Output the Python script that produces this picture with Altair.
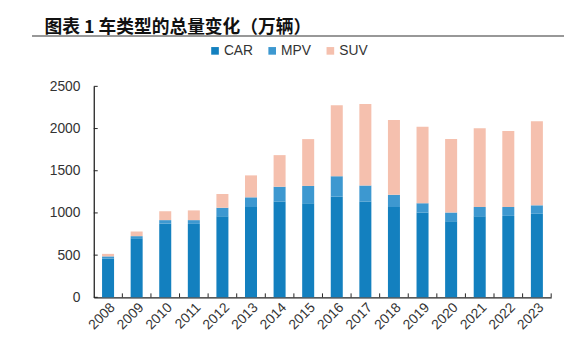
import altair as alt
import pandas as pd

years = [str(y) for y in range(2008, 2024)]
car = [460, 700, 875, 870, 960, 1070, 1135, 1115, 1195, 1135, 1070, 1005, 900, 960, 965, 990]
mpv = [25, 25, 40, 45, 100, 115, 175, 205, 240, 190, 145, 110, 105, 110, 105, 100]
suv = [30, 55, 105, 115, 165, 260, 375, 555, 840, 965, 885, 905, 870, 935, 900, 995]
series = ["CAR", "MPV", "SUV"]
colors = ["#1380bf", "#3d98d0", "#f5c0ae"]
y_ticks = [0, 500, 1000, 1500, 2000, 2500]

rows = []
for i, y in enumerate(years):
    for k, (name, vals) in enumerate(zip(series, [car, mpv, suv])):
        rows.append({"year": y, "type": name, "value": vals[i], "ord": k})
df = pd.DataFrame(rows)
tick_df = pd.DataFrame({"t": y_ticks})
year_df = pd.DataFrame({"year": years})

W, H = 464, 214
x_scale = alt.Scale(domain=years, paddingInner=0.58, paddingOuter=0.29)
y_scale = alt.Scale(domain=[0, 2500], nice=False)

bars = alt.Chart(df).mark_bar().encode(
    x=alt.X("year:N", scale=x_scale, sort=years, title=None,
            axis=alt.Axis(labelAngle=-45, labelAlign="right", labelBaseline="top",
                          labelFont="Liberation Sans", labelFontSize=14, labelColor="#333",
                          labelPadding=3, ticks=False, domainColor="#222", domainWidth=1.3)),
    y=alt.Y("value:Q", scale=y_scale, stack="zero", title=None,
            axis=alt.Axis(values=y_ticks, format="d", labelFont="Liberation Sans", labelFontSize=14,
                          labelColor="#333", labelPadding=14, ticks=False, grid=False,
                          domainColor="#222", domainWidth=1.3)),
    color=alt.Color("type:N", scale=alt.Scale(domain=series, range=colors),
                    legend=alt.Legend(title=None, orient="none", legendX=116, legendY=-43,
                                      direction="horizontal", symbolType="square",
                                      symbolSize=60, symbolStrokeWidth=0, labelFont="Liberation Sans",
                                      labelFontSize=14, labelColor="#333", columnPadding=12,
                                      labelOffset=2)),
    order=alt.Order("ord:Q"),
)

ytick_marks = alt.Chart(tick_df).mark_rule(color="#222", strokeWidth=1).encode(
    y=alt.Y("t:Q", scale=y_scale), x=alt.value(0), x2=alt.value(4)
)

xtick_marks = alt.Chart(year_df).mark_rule(color="#222", strokeWidth=1, xOffset=14.5).encode(
    x=alt.X("year:N", scale=x_scale, sort=years), y=alt.value(H - 4), y2=alt.value(H)
)

line = alt.Chart(year_df).mark_rule(color="#999", strokeWidth=1.5).encode(
    x=alt.value(-62), x2=alt.value(477), y=alt.value(-51)
)

chart = alt.layer(bars, ytick_marks, xtick_marks, line).properties(
    width=W, height=H,
    padding={"left": 87, "top": 77, "right": 13, "bottom": 54},
    autosize=alt.AutoSizeParams(type="none"),
    title=alt.TitleParams("图表 1 车类型的总量变化（万辆）", anchor="start", frame="group",
                          dx=-50, offset=-2, font="Noto Sans CJK SC", fontSize=18,
                          fontWeight="bold", color="#111"),
).configure_view(stroke=None).configure_axis(grid=False)

chart.save("out.html", embed_options={"renderer": "svg", "actions": False})
